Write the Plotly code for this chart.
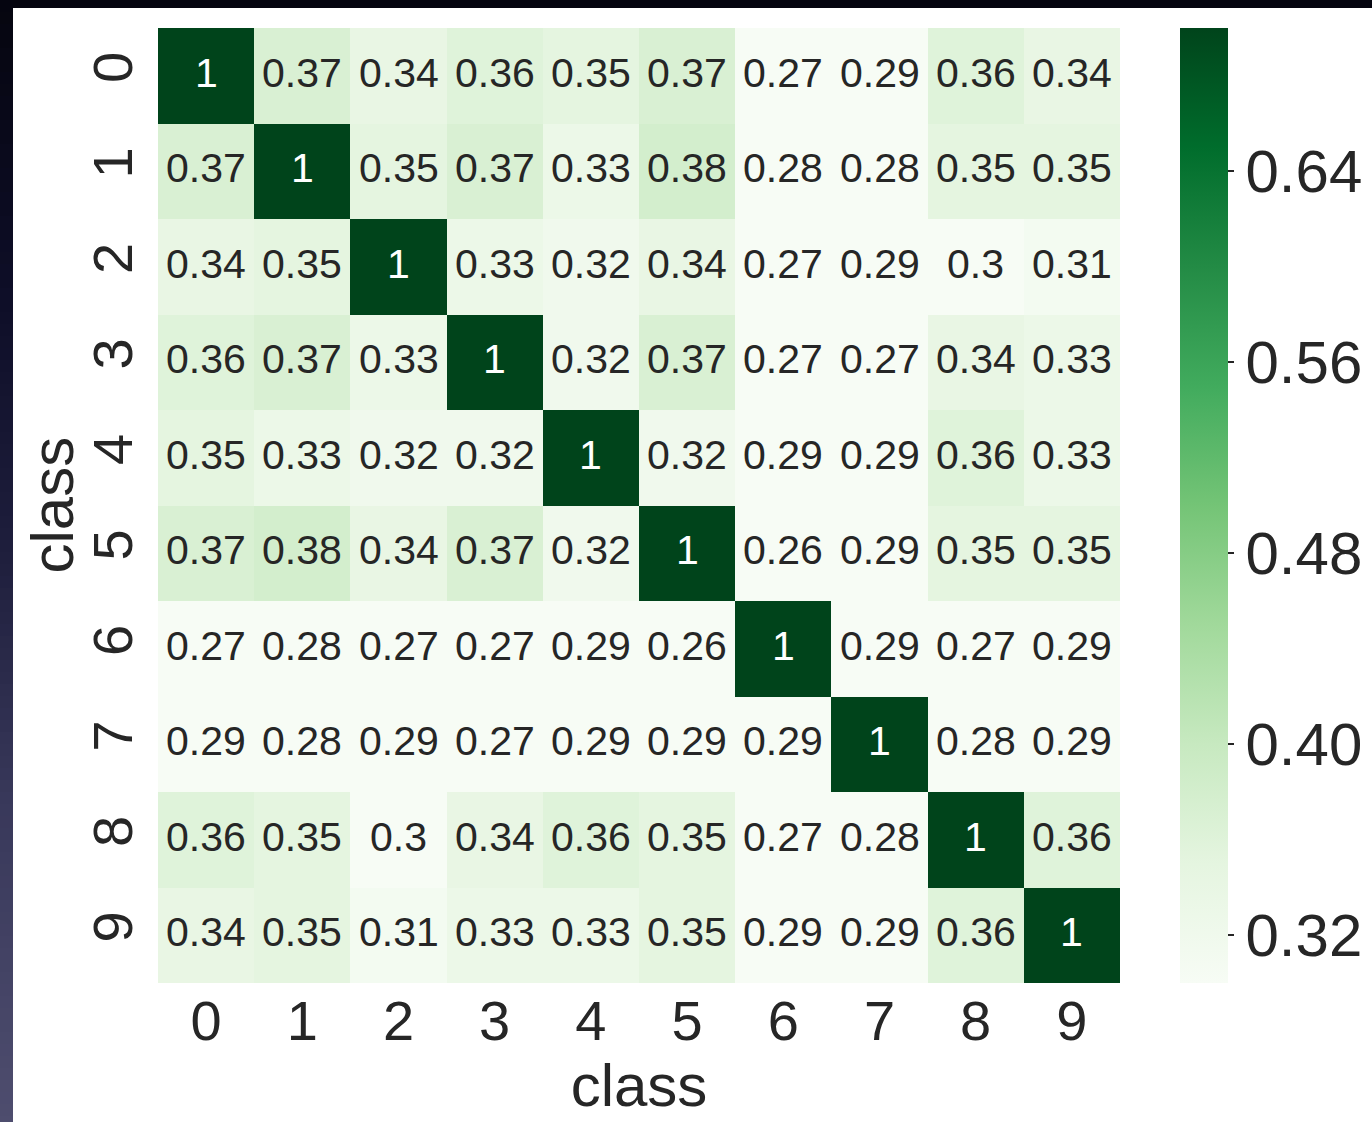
import plotly.graph_objects as go

classes = ["0", "1", "2", "3", "4", "5", "6", "7", "8", "9"]

similarity = [
    [1, 0.37, 0.34, 0.36, 0.35, 0.37, 0.27, 0.29, 0.36, 0.34],
    [0.37, 1, 0.35, 0.37, 0.33, 0.38, 0.28, 0.28, 0.35, 0.35],
    [0.34, 0.35, 1, 0.33, 0.32, 0.34, 0.27, 0.29, 0.3, 0.31],
    [0.36, 0.37, 0.33, 1, 0.32, 0.37, 0.27, 0.27, 0.34, 0.33],
    [0.35, 0.33, 0.32, 0.32, 1, 0.32, 0.29, 0.29, 0.36, 0.33],
    [0.37, 0.38, 0.34, 0.37, 0.32, 1, 0.26, 0.29, 0.35, 0.35],
    [0.27, 0.28, 0.27, 0.27, 0.29, 0.26, 1, 0.29, 0.27, 0.29],
    [0.29, 0.28, 0.29, 0.27, 0.29, 0.29, 0.29, 1, 0.28, 0.29],
    [0.36, 0.35, 0.3, 0.34, 0.36, 0.35, 0.27, 0.28, 1, 0.36],
    [0.34, 0.35, 0.31, 0.33, 0.33, 0.35, 0.29, 0.29, 0.36, 1],
]

cbar_ticks = [0.32, 0.40, 0.48, 0.56, 0.64]
zmin, zmax = 0.30, 0.70

greens = [
    [0.0, "#f7fcf5"], [0.125, "#e5f5e0"], [0.25, "#c7e9c0"],
    [0.375, "#a1d99b"], [0.5, "#74c476"], [0.625, "#41ab5d"],
    [0.75, "#238b45"], [0.875, "#006d2c"], [1.0, "#00441b"],
]

FONT = "Liberation Sans, Arial, sans-serif"
W, H = 1372, 1122
ML, MR, MT, MB = 158, 252, 28, 139
PW, PH = W - ML - MR, H - MT - MB

fig = go.Figure(go.Heatmap(
    z=similarity, x=classes, y=classes,
    colorscale=greens, zmin=zmin, zmax=zmax,
    xgap=0, ygap=0, hoverinfo="skip",
    colorbar=dict(
        thickness=48, len=1.0, lenmode="fraction", y=0.5, yanchor="middle",
        x=(1180 - ML) / PW, xanchor="left", xpad=0, ypad=0, outlinewidth=0,
        tickvals=cbar_ticks, ticktext=[f"{v:.2f}" for v in cbar_ticks],
        ticks="outside", ticklen=6, tickwidth=1.5, tickcolor="#262626",
        tickfont=dict(size=60, color="#262626", family=FONT),
    ),
))


def px_x(p):
    return (p - ML) / PW


def px_y(p):
    return (H - MB - p) / PH


# cell value labels
ann = []
for i, row in enumerate(similarity):
    for j, v in enumerate(row):
        frac = (min(max(v, zmin), zmax) - zmin) / (zmax - zmin)
        ann.append(dict(
            x=classes[j], y=classes[i], xref="x", yref="y",
            text=f"{v:g}", showarrow=False, yshift=3,
            font=dict(size=41, family=FONT,
                      color="white" if frac > 0.6 else "#262626"),
        ))

# y axis title, placed as vertical text left of the tick labels
ann.append(dict(
    x=px_x(52), y=0.5, xref="paper", yref="paper", text="class",
    textangle=-90, showarrow=False, xanchor="center", yanchor="middle",
    font=dict(size=60, family=FONT, color="#262626"),
))

# dark frame along the top and left edges of the page
shapes = [dict(type="rect", xref="paper", yref="paper",
               x0=px_x(0), x1=px_x(W), y0=px_y(8), y1=px_y(0),
               fillcolor="#05050f", line=dict(width=0), layer="above")]
stops = [(0, (5, 5, 15)), (300, (14, 14, 40)), (550, (30, 30, 60)),
         (800, (56, 56, 90)), (1122, (78, 77, 110))]
band = 12
for top in range(0, H, band):
    mid = top + band / 2
    for (a, ca), (b, cb) in zip(stops[:-1], stops[1:]):
        if a <= mid <= b:
            t = (mid - a) / (b - a)
            c = tuple(round(ca[k] + (cb[k] - ca[k]) * t) for k in range(3))
            break
    shapes.append(dict(type="rect", xref="paper", yref="paper",
                       x0=px_x(0), x1=px_x(13), y0=px_y(min(top + band, H)), y1=px_y(top),
                       fillcolor=f"rgb{c}", line=dict(width=0), layer="above"))

fig.update_layout(
    width=W, height=H,
    margin=dict(l=ML, r=MR, t=MT, b=MB, pad=0, autoexpand=False),
    paper_bgcolor="white", plot_bgcolor="white",
    font=dict(family=FONT, color="#262626"),
    annotations=ann, shapes=shapes,
    xaxis=dict(
        title=dict(text="class", font=dict(size=60, family=FONT), standoff=4),
        tickfont=dict(size=56, family=FONT), ticks="", showgrid=False,
        zeroline=False, showline=False, automargin=False,
    ),
    yaxis=dict(
        tickfont=dict(size=56, family=FONT), tickangle=-90, ticks="",
        ticklabelstandoff=14, automargin=False,
        autorange="reversed", showgrid=False, zeroline=False, showline=False,
    ),
)

fig.write_html("out.html")
